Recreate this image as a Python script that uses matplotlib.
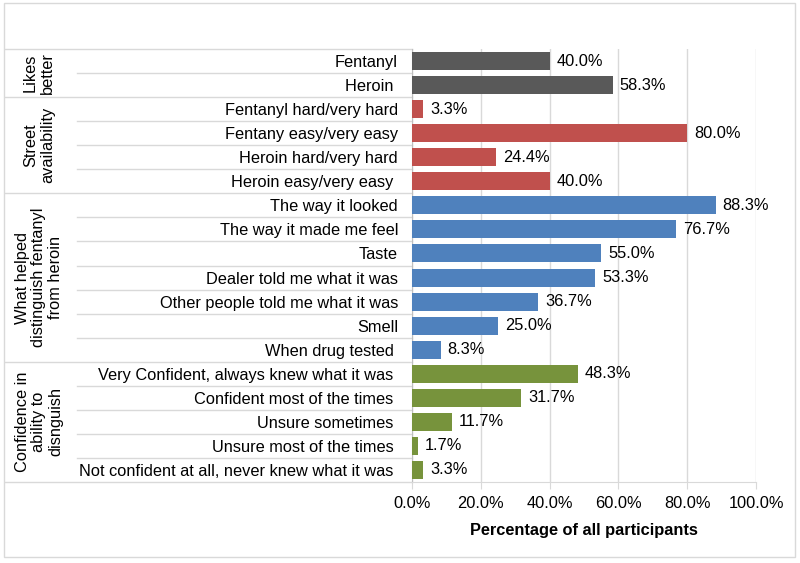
import numpy as np
import matplotlib.pyplot as plt
from matplotlib.patches import Rectangle

plt.rcParams['font.family'] = ['Liberation Sans', 'DejaVu Sans']

# Datos por grupo
group_names = ["Likes\nbetter", "Street\navailability",
               "What helped\ndistinguish fentanyl\nfrom heroin",
               "Confidence in\nability to\ndisnguish"]
group_colors = ["#595959", "#C0504D", "#4F81BD", "#77933C"]

likes_labels = ["Fentanyl", "Heroin "]
likes_values = [40.0, 58.3]

street_labels = ["Fentanyl hard/very hard", "Fentany easy/very easy",
                 "Heroin hard/very hard", "Heroin easy/very easy "]
street_values = [3.3, 80.0, 24.4, 40.0]

helped_labels = ["The way it looked", "The way it made me feel", "Taste",
                 "Dealer told me what it was", "Other people told me what it was",
                 "Smell", "When drug tested "]
helped_values = [88.3, 76.7, 55.0, 53.3, 36.7, 25.0, 8.3]

conf_labels = ["Very Confident, always knew what it was ",
               "Confident most of the times ", "Unsure sometimes ",
               "Unsure most of the times ",
               "Not confident at all, never knew what it was "]
conf_values = [48.3, 31.7, 11.7, 1.7, 3.3]

groups = [(likes_labels, likes_values), (street_labels, street_values),
          (helped_labels, helped_values), (conf_labels, conf_values)]

labels, values, colors, sizes = [], [], [], []
for (lab, val), col in zip(groups, group_colors):
    labels += lab
    values += val
    colors += [col] * len(val)
    sizes.append(len(val))

n = len(values)
ypos = np.arange(n)
fs = 11.8

W, H = 800, 563
fig = plt.figure(figsize=(8, 5.63), dpi=100)
fig.patches.append(Rectangle((4 / W, 1 - 557 / H), 791 / W, 554 / H,
                             transform=fig.transFigure, fill=False,
                             edgecolor="#D9D9D9", linewidth=1))

x0, x1, ytop, ybot = 412, 756, 49, 482
ax = fig.add_axes([x0 / W, 1 - ybot / H, (x1 - x0) / W, (ybot - ytop) / H])

ax.barh(ypos, values, height=0.75, color=colors, zorder=3)
for y, v in zip(ypos, values):
    ax.text(v + 2.0, y, f"{v:.1f}%", va="center", ha="left", fontsize=fs)

ax.set_xlim(0, 100)
ax.set_ylim(n - 0.5, -0.5)
ax.set_xticks(np.arange(0, 101, 20))
ax.set_xticklabels([f"{t:.1f}%" for t in range(0, 101, 20)], fontsize=fs)
ax.set_yticks(ypos)
ax.set_yticklabels(labels, fontsize=fs)
ax.tick_params(axis="y", length=0, pad=10)
ax.tick_params(axis="x", length=5, color="#D9D9D9", pad=5)
ax.grid(axis="x", color="#D9D9D9", linewidth=1, zorder=0)
for s in ["top", "right"]:
    ax.spines[s].set_visible(False)
ax.spines["left"].set_color("#BFBFBF")
ax.spines["bottom"].set_color("#D9D9D9")
ax.set_xlabel("Percentage of all participants", fontsize=fs,
              fontweight="bold", labelpad=9)

# separadores y nombres de grupo
tr = ax.get_yaxis_transform()
full_left = (5 - x0) / (x1 - x0)
inner_left = (77 - x0) / (x1 - x0)
mid_x = (39 - x0) / (x1 - x0)
ax.plot([full_left, 0], [-0.5, -0.5], transform=tr, color="#D9D9D9",
        lw=1, clip_on=False)
start = 0
for name, k in zip(group_names, sizes):
    for i in range(1, k):
        yy = start + i - 0.5
        ax.plot([inner_left, 0], [yy, yy], transform=tr, color="#D9D9D9",
                lw=1, clip_on=False)
    yy = start + k - 0.5
    ax.plot([full_left, 0], [yy, yy], transform=tr, color="#D9D9D9",
            lw=1, clip_on=False)
    ax.text(mid_x, start + (k - 1) / 2, name, transform=tr, rotation=90,
            ha="center", va="center", fontsize=fs, linespacing=1.15)
    start += k

fig.savefig("out.png", dpi=100)
